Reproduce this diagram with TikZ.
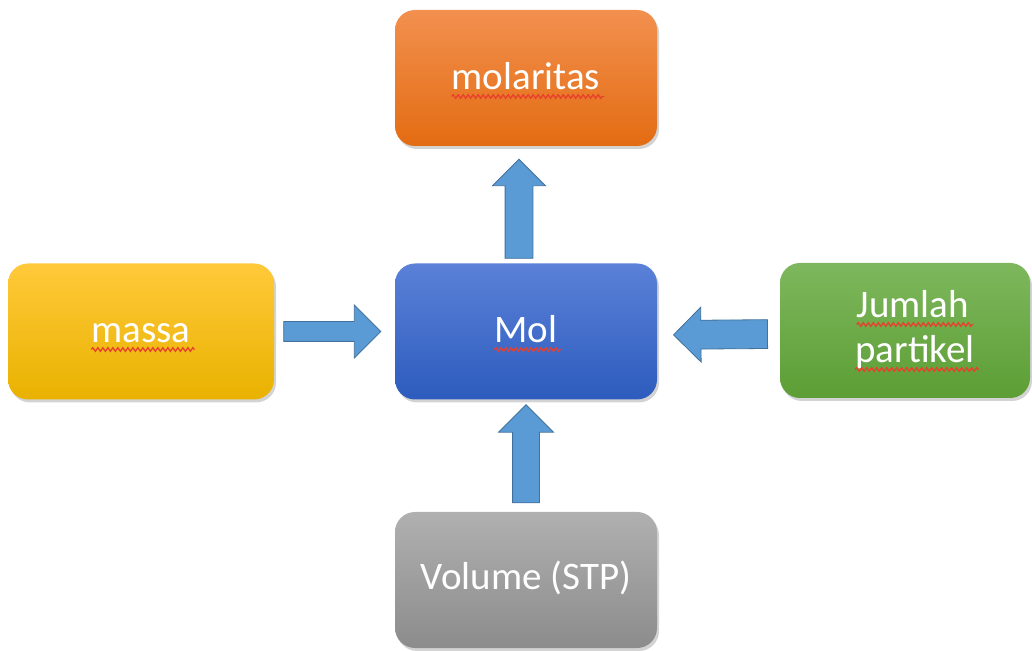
\documentclass[tikz,border=0pt]{standalone}
\usepackage{fontspec}
\setmainfont{Carlito}
\usetikzlibrary{shapes.arrows,shadows,decorations.pathmorphing,calc}
\definecolor{orT}{HTML}{F2904F}\definecolor{orB}{HTML}{E36C12}
\definecolor{yeT}{HTML}{FFC93A}\definecolor{yeB}{HTML}{E9B200}
\definecolor{blT}{HTML}{5B81D8}\definecolor{blB}{HTML}{2D5CBE}
\definecolor{grT}{HTML}{7EB75D}\definecolor{grB}{HTML}{5C9E35}
\definecolor{gyT}{HTML}{B0B0B0}\definecolor{gyB}{HTML}{8C8C8C}
\definecolor{arrF}{HTML}{5B9BD5}\definecolor{arrD}{HTML}{41719C}
\definecolor{wav}{HTML}{E8402C}
\tikzset{
  box/.style={rounded corners=20pt, minimum height=136pt, inner sep=0pt,
    drop shadow={opacity=0.35, shadow xshift=2pt, shadow yshift=-3pt}},
  lbl/.style={text=white, inner sep=0pt, anchor=base, font=\fontsize{39}{47}\selectfont},
  wavy/.style={draw=wav, line width=1.3pt, decorate,
    decoration={snake, segment length=5pt, amplitude=1.8pt}},
  blockarrow/.style={single arrow, fill=arrF, draw=arrD, line width=0.8pt,
    inner xsep=0pt, sloped, allow upside down, anchor=center},
}
\begin{document}
\begin{tikzpicture}[x=1pt,y=1pt]
\useasboundingbox (0,0) rectangle (1032,650);
% boxes
\node[box, minimum width=262pt, top color=orT, bottom color=orB] (mola) at (526,572) {};
\node[box, minimum width=266pt, top color=yeT, bottom color=yeB] (massa) at (141,318.5) {};
\node[box, minimum width=262pt, top color=blT, bottom color=blB] (mol) at (526,318.5) {};
\node[box, minimum width=250pt, minimum height=135pt, top color=grT, bottom color=grB] (jum) at (905,319.5) {};
\node[box, minimum width=262pt, top color=gyT, bottom color=gyB] (vol) at (526,70) {};
% labels
\node[lbl] (tmola) at ([yshift=-12pt]mola.center) {molaritas};
\node[lbl] (tmassa) at ([yshift=-11.5pt]massa.center) {massa};
\node[lbl] (tmol) at ([yshift=-11.5pt]mol.center) {Mol};
\node[lbl] (tjum1) at ([xshift=8pt,yshift=12.5pt]jum.center) {Jumlah};
\node[lbl] (tjum2) at ([xshift=10pt,yshift=-32.5pt]jum.center) {partikel};
\node[lbl] (tvol) at ([yshift=-10pt]vol.center) {Volume (STP)};
% spell-check underlines
\foreach \t in {tmola,tmassa,tmol,tjum1,tjum2}{
  \draw[wavy] ([yshift=-6.5pt]\t.base west) -- ([xshift=4pt,yshift=-6.5pt]\t.base east);
}
% block arrows
\path ([xshift=-7pt]mol.north) -- ([xshift=-7pt]mola.south)
  node[blockarrow, pos=0.406, minimum height=99pt, inner ysep=13.5pt, single arrow head extend=12.5pt] (a1) {};
\path (vol.north) -- (mol.south)
  node[blockarrow, pos=0.458, minimum height=98pt, inner ysep=13pt, single arrow head extend=14pt] (a2) {};
\path (massa.east) -- (mol.west)
  node[blockarrow, pos=0.44, minimum height=97pt, inner ysep=9.5pt, single arrow head extend=16.5pt] (a3) {};
\path ([yshift=-3.5pt]jum.west) -- ([yshift=-3.5pt]mol.east)
  node[blockarrow, pos=0.425, minimum height=94pt, inner ysep=14pt, single arrow head extend=13pt] (a4) {};
\end{tikzpicture}
\end{document}
